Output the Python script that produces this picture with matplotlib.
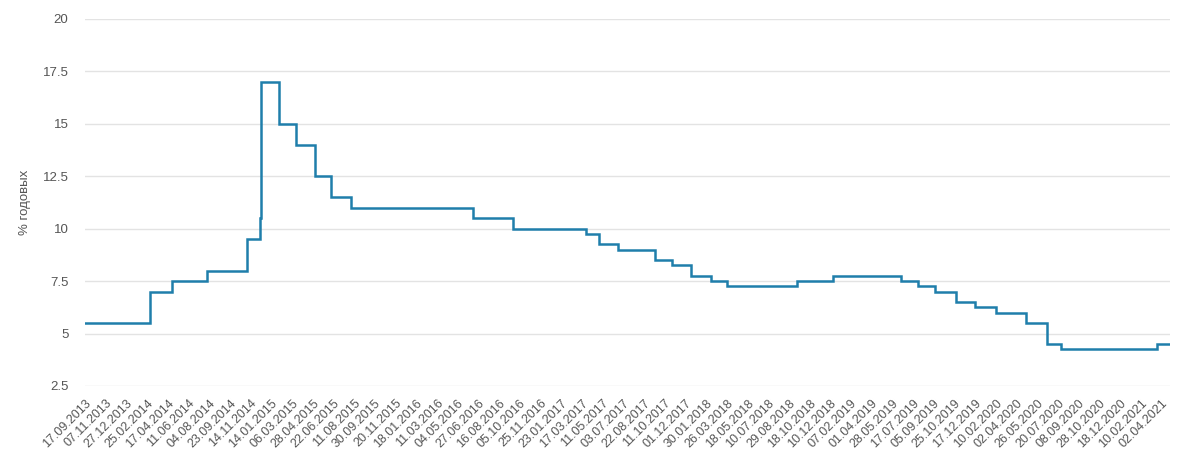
import numpy as np
import matplotlib
matplotlib.use("Agg")
import matplotlib.pyplot as plt
import datetime as dt

tick_labels = ["17.09.2013", "07.11.2013", "27.12.2013", "25.02.2014", "17.04.2014", "11.06.2014",
               "04.08.2014", "23.09.2014", "14.11.2014", "14.01.2015", "06.03.2015", "28.04.2015",
               "22.06.2015", "11.08.2015", "30.09.2015", "20.11.2015", "18.01.2016", "11.03.2016",
               "04.05.2016", "27.06.2016", "16.08.2016", "05.10.2016", "25.11.2016", "23.01.2017",
               "17.03.2017", "11.05.2017", "03.07.2017", "22.08.2017", "11.10.2017", "01.12.2017",
               "30.01.2018", "26.03.2018", "18.05.2018", "10.07.2018", "29.08.2018", "18.10.2018",
               "10.12.2018", "07.02.2019", "01.04.2019", "28.05.2019", "17.07.2019", "05.09.2019",
               "25.10.2019", "17.12.2019", "10.02.2020", "02.04.2020", "26.05.2020", "20.07.2020",
               "08.09.2020", "28.10.2020", "18.12.2020", "10.02.2021", "02.04.2021"]

change_dates = ["17.09.2013", "03.03.2014", "28.04.2014", "28.07.2014", "05.11.2014", "12.12.2014",
                "16.12.2014", "02.02.2015", "16.03.2015", "05.05.2015", "16.06.2015", "03.08.2015",
                "14.06.2016", "19.09.2016", "27.03.2017", "02.05.2017", "19.06.2017", "18.09.2017",
                "30.10.2017", "18.12.2017", "12.02.2018", "26.03.2018", "17.09.2018", "17.12.2018",
                "17.06.2019", "29.07.2019", "09.09.2019", "28.10.2019", "16.12.2019", "10.02.2020",
                "27.04.2020", "22.06.2020", "27.07.2020", "22.03.2021"]
rates = [5.5, 7.0, 7.5, 8.0, 9.5, 10.5, 17.0, 15.0, 14.0, 12.5, 11.5, 11.0,
         10.5, 10.0, 9.75, 9.25, 9.0, 8.5, 8.25, 7.75, 7.5, 7.25, 7.5, 7.75,
         7.5, 7.25, 7.0, 6.5, 6.25, 6.0, 5.5, 4.5, 4.25, 4.5]
end_date = "23.04.2021"

def parse(s):
    return dt.datetime.strptime(s, "%d.%m.%Y").date()

tick_days = np.array([parse(s).toordinal() for s in tick_labels], dtype=float)
tick_idx = np.arange(len(tick_labels), dtype=float)
step_bd = 36.0

def pos(s):
    d = parse(s)
    o = d.toordinal()
    if o <= tick_days[-1]:
        return float(np.interp(o, tick_days, tick_idx))
    extra = np.busday_count(np.datetime64(parse(tick_labels[-1])), np.datetime64(d))
    return tick_idx[-1] + extra / step_bd

xs = [pos(s) for s in change_dates] + [pos(end_date)]
ys = rates + [rates[-1]]

plt.rcParams['font.family'] = ['Liberation Sans', 'DejaVu Sans']
fig = plt.figure(figsize=(12, 4.75), dpi=100)
ax = fig.add_axes([85/1200, 1-386/475, (1170-85)/1200, (386-19)/475])

ax.step(xs, ys, where='post', color='#1f7eab', linewidth=1.8, solid_joinstyle='miter')

ax.set_ylim(2.5, 20)
ax.set_yticks([2.5, 5, 7.5, 10, 12.5, 15, 17.5, 20])
ax.set_yticklabels(["2.5", "5", "7.5", "10", "12.5", "15", "17.5", "20"])
ax.set_xlim(0, xs[-1])
ax.set_xticks(tick_idx)
ax.set_xticklabels(tick_labels, rotation=45, ha='right', rotation_mode='anchor')
ax.tick_params(axis='both', length=0, colors='#555555')
ax.tick_params(axis='x', pad=8, labelsize=9)
ax.tick_params(axis='y', pad=12, labelsize=9.5)
ax.grid(axis='y', color='#e3e3e3', linewidth=1)
ax.set_axisbelow(True)
for sp in ax.spines.values():
    sp.set_visible(False)
ax.set_ylabel("% годовых", color='#555555', fontsize=9.5, labelpad=8)

fig.savefig("out.png", dpi=100)
